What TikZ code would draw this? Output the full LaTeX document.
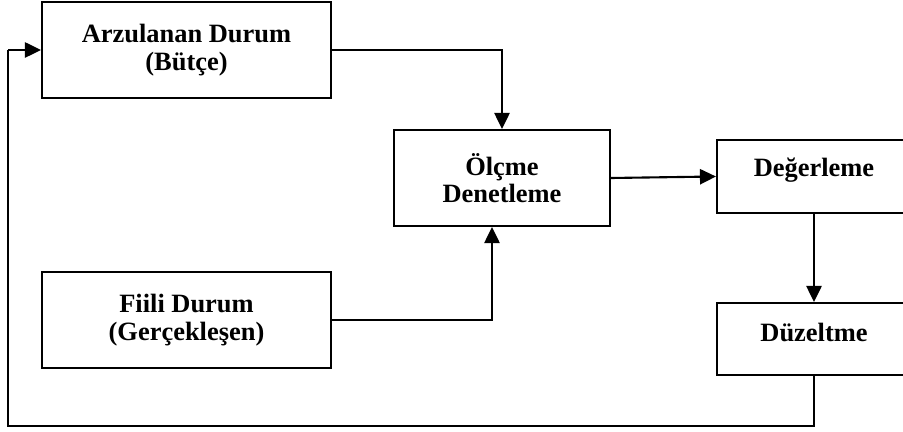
\documentclass[tikz,border=0pt]{standalone}
\usepackage{fontspec}
\setmainfont{Liberation Serif}
\usepackage{tikz}
\usetikzlibrary{arrows.meta}

\begin{document}
\begin{tikzpicture}[x=0.025cm,y=-0.025cm,
	box/.style={draw,line width=1.5pt,rectangle,align=center,inner sep=0pt,
		font=\fontsize{18.8}{19.5}\selectfont\bfseries},
	flow/.style={line width=1.5pt,-{Triangle[length=0.4cm,width=0.38cm]}}]
	\useasboundingbox (0,0) rectangle (903,432);
	\node[box,minimum width=289*0.025cm,minimum height=96*0.025cm] (arz) at (186.5,50){Arzulanan Durum\\(Bütçe)};
	\node[box,minimum width=216*0.025cm,minimum height=96*0.025cm] (olc) at (502,178){Ölçme\\Denetleme};
	\node[box,minimum width=194*0.025cm,minimum height=73*0.025cm,text depth=13pt] (deg) at (814,176.5){Değerleme};
	\node[box,minimum width=289*0.025cm,minimum height=96*0.025cm] (fii) at (186.5,320){Fiili Durum\\(Gerçekleşen)};
	\node[box,minimum width=194*0.025cm,minimum height=72*0.025cm,text depth=10pt] (duz) at (814,339){Düzeltme};
	\coordinate (c1) at (814,426);
	\coordinate (c2) at (8,426);
	\coordinate (c3) at (8,50);
	\draw [flow] (arz.east) -| (olc.north);
	\draw [flow] (fii.east) -| ([xshift=-10*0.025cm]olc.south);
	\draw [flow] (olc.east) -- (deg.west);
	\draw [flow] (deg.south) -- (duz.north);
	\draw [line width=1.5pt] (duz.south) -- (c1) -- (c2) -- (c3);
	\draw [flow] (c3) -- (arz.west);
\end{tikzpicture}
\end{document}
